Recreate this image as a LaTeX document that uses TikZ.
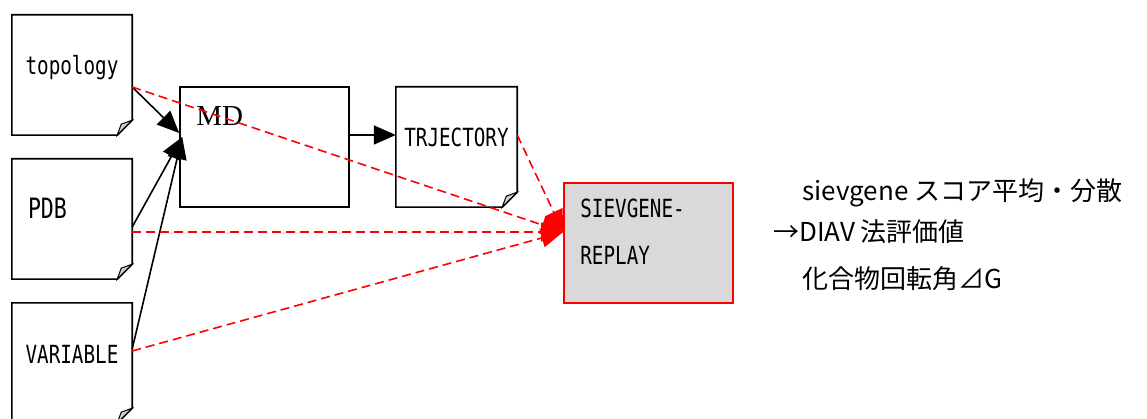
\documentclass[tikz,border=0pt]{standalone}
\usepackage{fontspec}
\setmainfont{Liberation Serif}
\newfontfamily\gothic[FakeStretch=0.77]{DejaVu Sans Mono}
\newfontfamily\jpfont{Noto Sans CJK JP}
\usetikzlibrary{arrows.meta,calc}
\definecolor{boxgray}{HTML}{D9D9D9}

\tikzset{
  doc/.style={minimum width=120pt, minimum height=120pt, inner sep=0pt,
    text height=18pt, text depth=18pt, font=\gothic\fontsize{25}{25}\selectfont},
  proc/.style={draw, line width=1.6pt, minimum width=169pt, minimum height=120pt, inner sep=0pt},
  flow/.style={line width=1.6pt, -{Triangle[length=22pt,width=19pt]}},
  ref/.style={red, line width=1.6pt, dash pattern=on 9pt off 5pt, -{Triangle[length=22pt,width=19pt]}},
  note/.style={anchor=west, inner sep=0pt, font=\jpfont\fontsize{26}{26}\selectfont}
}

\begin{document}
\begin{tikzpicture}[x=1pt, y=-1pt]
    \useasboundingbox (0,0) rectangle (1147,419);

    % input files
    \node[doc] (topo) at (72,75) {topology};
    \node[doc, font=\gothic\fontsize{28}{28}\selectfont, text width=88pt, align=left] (pdb) at (72,219) {PDB};
    \node[doc] (var) at (72,363) {VARIABLE};
    \node[doc, minimum width=121pt] (trj) at (456.5,147) {TRJECTORY};

    % folded sheets
    \foreach \f in {topo,pdb,var,trj} {
        \draw[line width=1.6pt] (\f.north west) -- (\f.north east) -- ([yshift=15pt]\f.south east)
            -- ([xshift=-15pt]\f.south east) -- (\f.south west) -- cycle;
        \draw[line width=1pt, fill=gray!40] ([xshift=-15pt]\f.south east)
            -- ([xshift=-11pt,yshift=11pt]\f.south east) -- ([yshift=15pt]\f.south east) -- cycle;
    }

    % programs
    \node[proc] (md) at (264.5,147) {};
    \node[anchor=north west, inner sep=0pt, font=\fontsize{29}{29}\selectfont] (mdtext)
        at ([xshift=17pt,yshift=-20pt]md.north west) {MD};
    \node[proc, draw=red, fill=boxgray] (sieve) at (648.5,243) {};
    \node[anchor=north west, inner sep=0pt, align=left, font=\gothic\fontsize{25}{47}\selectfont] (sievetext)
        at ([xshift=17pt,yshift=-17pt]sieve.north west) {SIEVGENE-\\REPLAY};

    \draw[flow] ([yshift=-12pt]topo.east) -- ([yshift=14pt]md.west);
    \draw[flow] ([yshift=-8pt]pdb.east) -- ([xshift=3pt,yshift=10pt]md.west);
    \draw[flow] ([yshift=14pt]var.east) -- ([xshift=3pt,yshift=10pt]md.west);
    \draw[flow] ([yshift=12pt]md.east) -- ([yshift=12pt]trj.west);

    \draw[ref] ([yshift=-12pt]topo.east) -- ([yshift=11pt]sieve.west);
    \draw[ref] ([yshift=-13pt]pdb.east) -- ([yshift=11pt]sieve.west);
    \draw[ref] ([yshift=12pt]var.east) -- ([yshift=11pt]sieve.west);
    \draw[ref] ([yshift=12pt]trj.east) -- ([yshift=11pt]sieve.west);

    % outputs
    \node[note] (score) at (802,193) {sievgene スコア平均・分散};
    \node[note] (diav) at (773,232) {→DIAV 法評価値};
    \node[note] (dg) at (802,279) {化合物回転角⊿G};
\end{tikzpicture}
\end{document}
